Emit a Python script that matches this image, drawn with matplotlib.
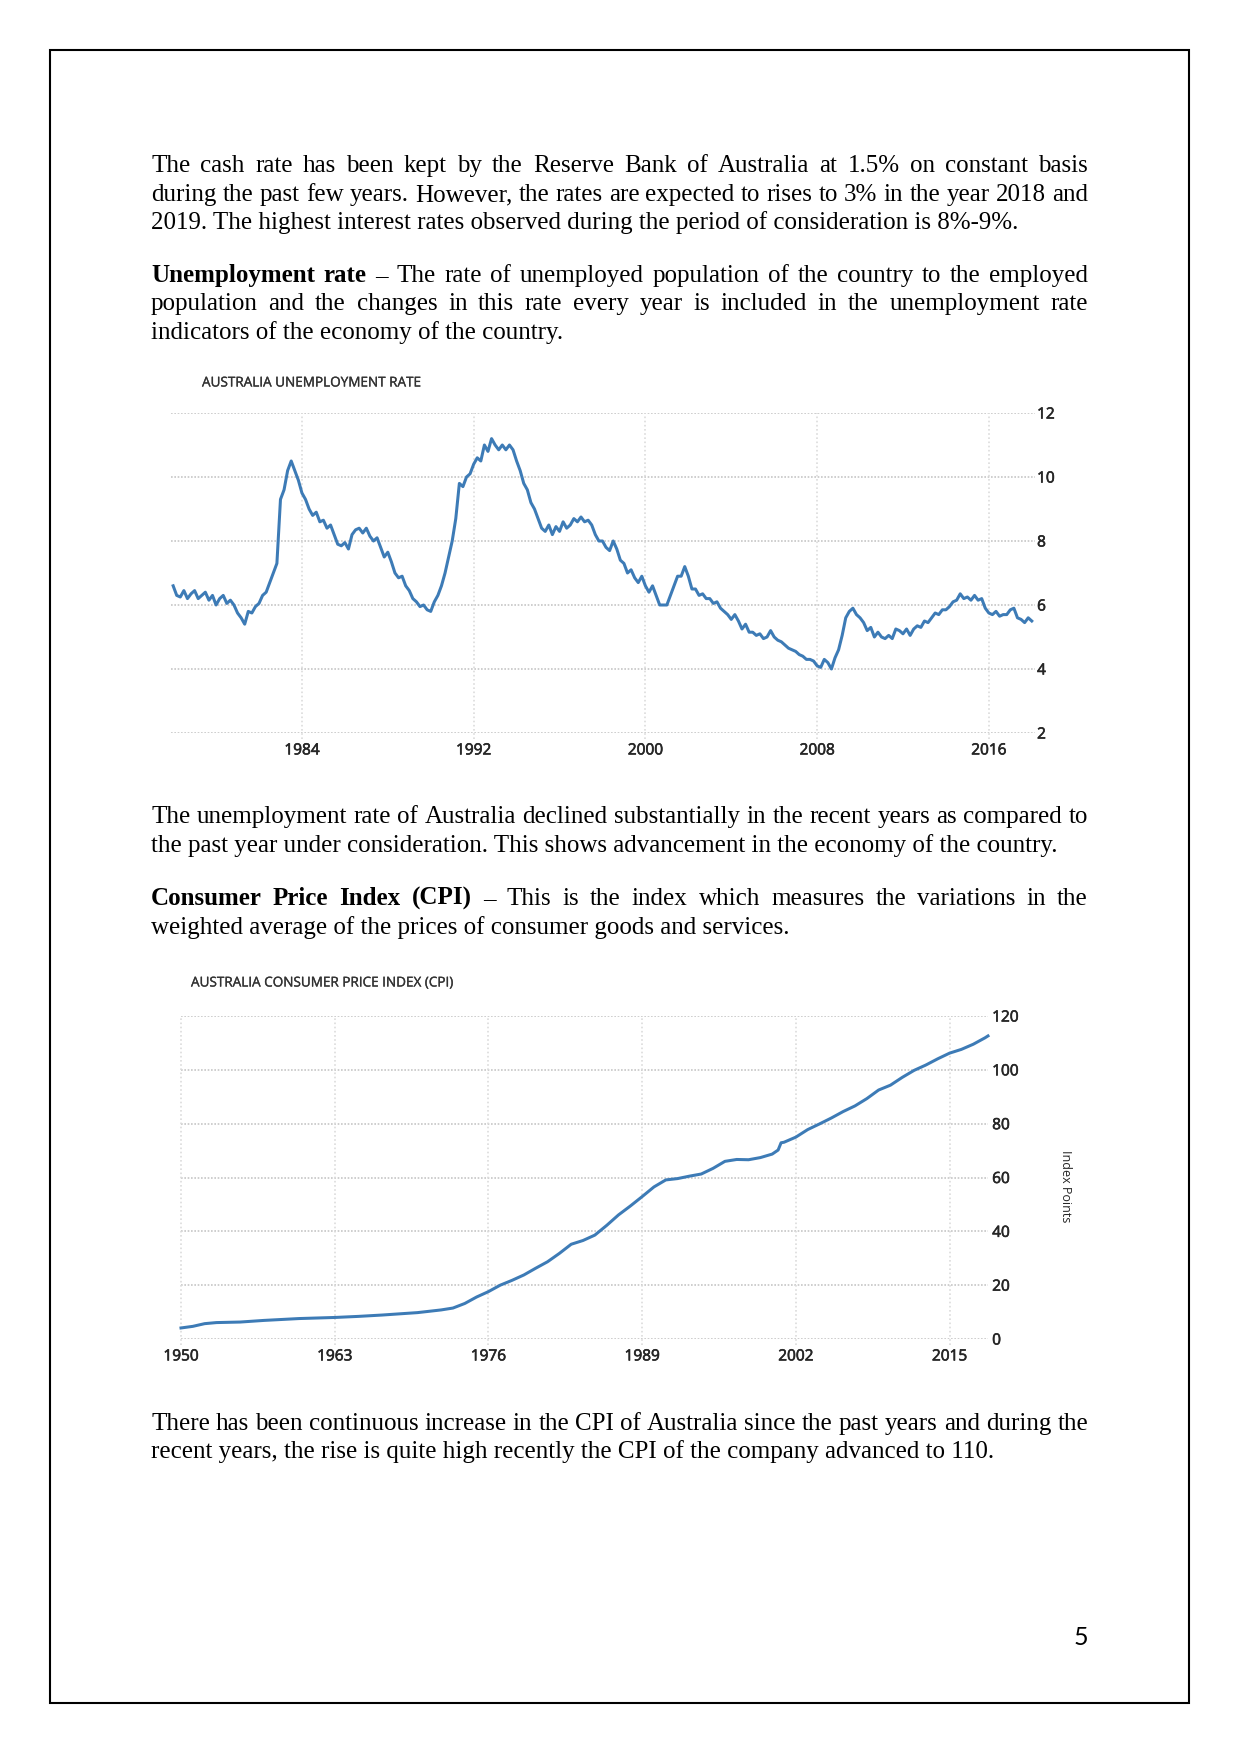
import numpy as np
import matplotlib
matplotlib.use("Agg")
import matplotlib.pyplot as plt
from matplotlib.patches import Rectangle
import matplotlib.patheffects as pe

W, H = 1241, 1754
DPI = 150

# ---------------- data ----------------
unemp_start = 1978.0
unemp_step = 1.0 / 6.0   # bi-monthly readings
unemp_values = [
    6.6, 6.3, 6.25, 6.45, 6.2, 6.35,      # 1978
    6.45, 6.2, 6.3, 6.4, 6.15, 6.3,       # 1979
    6.0, 6.2, 6.3, 6.05, 6.15, 6.0,       # 1980
    5.75, 5.6, 5.4, 5.8, 5.75, 5.95,      # 1981
    6.05, 6.3, 6.4, 6.7, 7.0, 7.3,        # 1982
    9.3, 9.6, 10.2, 10.5, 10.2, 9.9,      # 1983
    9.5, 9.3, 9.0, 8.8, 8.9, 8.6,         # 1984
    8.65, 8.4, 8.5, 8.2, 7.9, 7.85,       # 1985
    7.95, 7.75, 8.2, 8.35, 8.4, 8.25,     # 1986
    8.4, 8.15, 8.0, 8.1, 7.8, 7.5,        # 1987
    7.65, 7.35, 7.0, 6.85, 6.9, 6.6,      # 1988
    6.45, 6.2, 6.1, 5.95, 6.0, 5.85,      # 1989
    5.8, 6.1, 6.3, 6.6, 7.0, 7.5,         # 1990
    8.0, 8.7, 9.8, 9.7, 10.0, 10.1,       # 1991
    10.4, 10.6, 10.5, 11.0, 10.8, 11.2,   # 1992
    11.0, 10.85, 11.0, 10.85, 11.0, 10.85,  # 1993
    10.5, 10.2, 9.8, 9.6, 9.2, 9.0,       # 1994
    8.7, 8.4, 8.3, 8.5, 8.2, 8.45,        # 1995
    8.3, 8.6, 8.4, 8.5, 8.7, 8.6,         # 1996
    8.75, 8.6, 8.65, 8.5, 8.2, 8.0,       # 1997
    8.0, 7.8, 7.7, 8.0, 7.75, 7.4,        # 1998
    7.3, 7.0, 7.1, 6.85, 6.7, 6.9,        # 1999
    6.6, 6.4, 6.6, 6.3, 6.0, 6.0,         # 2000
    6.0, 6.3, 6.6, 6.9, 6.9, 7.2,         # 2001
    6.9, 6.5, 6.5, 6.3, 6.35, 6.2,        # 2002
    6.2, 6.05, 6.1, 5.9, 5.8, 5.7,        # 2003
    5.55, 5.7, 5.5, 5.25, 5.4, 5.15,      # 2004
    5.15, 5.05, 5.1, 4.95, 5.0, 5.2,      # 2005
    5.0, 4.9, 4.85, 4.75, 4.65, 4.6,      # 2006
    4.55, 4.45, 4.4, 4.3, 4.3, 4.25,      # 2007
    4.1, 4.05, 4.3, 4.2, 4.0, 4.35,       # 2008
    4.6, 5.05, 5.6, 5.8, 5.9, 5.7,        # 2009
    5.6, 5.45, 5.2, 5.3, 5.0, 5.15,       # 2010
    5.0, 4.95, 5.05, 4.95, 5.25, 5.2,     # 2011
    5.1, 5.25, 5.05, 5.25, 5.35, 5.3,     # 2012
    5.5, 5.45, 5.6, 5.75, 5.7, 5.85,      # 2013
    5.85, 5.95, 6.1, 6.15, 6.35, 6.2,     # 2014
    6.25, 6.15, 6.3, 6.15, 6.2, 5.9,      # 2015
    5.75, 5.7, 5.8, 5.65, 5.7, 5.7,       # 2016
    5.85, 5.9, 5.6, 5.55, 5.45, 5.6,      # 2017
    5.5,                                  # 2018
]
unemp_xticks = [1984, 1992, 2000, 2008, 2016]
unemp_yticks = [2, 4, 6, 8, 10, 12]

cpi_years = [1950, 1951, 1952, 1953, 1955, 1957, 1960, 1963, 1965, 1967,
             1970, 1972, 1973, 1974, 1975, 1976, 1977, 1978, 1979, 1980,
             1981, 1982, 1983, 1984, 1985, 1986, 1987, 1988, 1989, 1990,
             1991, 1992, 1993, 1994, 1995, 1996, 1997, 1998, 1999, 2000,
             2000.5, 2000.75, 2001, 2002, 2003, 2004, 2005, 2006, 2007, 2008,
             2009, 2010, 2011, 2012, 2013, 2014, 2015, 2016, 2017, 2018, 2018.25]
cpi_values = [4.1, 4.7, 5.7, 6.1, 6.3, 6.9, 7.6, 8.0, 8.4, 8.9,
              9.8, 10.8, 11.5, 13.2, 15.6, 17.6, 20.0, 21.8, 23.8, 26.3,
              28.7, 31.8, 35.2, 36.6, 38.6, 42.2, 46.1, 49.4, 52.9, 56.5,
              59.1, 59.6, 60.5, 61.3, 63.4, 66.0, 66.7, 66.6, 67.4, 68.7,
              70.2, 72.9, 73.1, 75.0, 77.8, 79.9, 82.1, 84.5, 86.6, 89.3,
              92.5, 94.3, 97.2, 99.8, 101.8, 104.1, 106.2, 107.6, 109.5, 111.9, 112.6]
cpi_xticks = [1950, 1963, 1976, 1989, 2002, 2015]
cpi_yticks = [0, 20, 40, 60, 80, 100, 120]

unemp_title = "AUSTRALIA UNEMPLOYMENT RATE"
cpi_title = "AUSTRALIA CONSUMER PRICE INDEX (CPI)"
cpi_ylabel = "Index Points"

paragraphs = [
    [
        [("The cash rate has been kept by the Reserve Bank of Australia at 1.5% on constant basis", False)],
        [("during the past few years. However, the rates are expected to rises to 3% in the year 2018 and", False)],
        [("2019. The highest interest rates observed during the period of consideration is 8%-9%.", False)],
    ],
    [
        [("Unemployment rate", True), ("– The rate of unemployed population of the country to the employed", False)],
        [("population and the changes in this rate every year is included in the unemployment rate", False)],
        [("indicators of the economy of the country.", False)],
    ],
    [
        [("The unemployment rate of Australia declined substantially in the recent years as compared to", False)],
        [("the past year under consideration. This shows advancement in the economy of the country.", False)],
    ],
    [
        [("Consumer Price Index (CPI)", True), ("– This is the index which measures the variations in the", False)],
        [("weighted average of the prices of consumer goods and services.", False)],
    ],
    [
        [("There has been continuous increase in the CPI of Australia since the past years and during the", False)],
        [("recent years, the rise is quite high recently the CPI of the company advanced to 110.", False)],
    ],
]
para_baselines = [
    [172, 201, 229],
    [282, 310, 339],
    [823, 852],
    [905, 934],
    [1430, 1458],
]

# ---------------- figure ----------------
fig = plt.figure(figsize=(W / DPI, H / DPI), dpi=DPI)
page = fig.add_axes([0, 0, 1, 1])
page.set_xlim(0, W)
page.set_ylim(H, 0)
page.axis("off")

page.add_patch(Rectangle((50, 50), 1139, 1653, fill=False, edgecolor="black", linewidth=1.0))

renderer = fig.canvas.get_renderer()
SERIF = "Liberation Serif"
FS = 12
X0, X1 = 151, 1088


def measure(s, bold):
    t = page.text(0, 0, s, fontfamily=SERIF, fontsize=FS,
                  fontweight="bold" if bold else "normal")
    w = t.get_window_extent(renderer).width
    t.remove()
    return w


for para, bases in zip(paragraphs, para_baselines):
    n = len(para)
    for i, (line, yb) in enumerate(zip(para, bases)):
        last = (i == n - 1)
        if last:
            x = X0
            space = measure("a a", False) - 2 * measure("a", False)
            for seg, bold in line:
                page.text(x, yb, seg, fontfamily=SERIF, fontsize=FS,
                          fontweight="bold" if bold else "normal",
                          ha="left", va="baseline", color="black")
                x += measure(seg, bold) + space
        else:
            words = []
            for seg, bold in line:
                for wd in seg.split(" "):
                    words.append((wd, bold))
            widths = [measure(wd, b) for wd, b in words]
            gap = (X1 - X0 - sum(widths)) / (len(words) - 1)
            x = X0
            for (wd, b), wdt in zip(words, widths):
                page.text(x, yb, wd, fontfamily=SERIF, fontsize=FS,
                          fontweight="bold" if b else "normal",
                          ha="left", va="baseline", color="black")
                x += wdt + gap

page.text(1088, 1645, "5", fontfamily="Lato", fontsize=12, ha="right",
          va="baseline", color="black")


def px_axes(l, t, r, b):
    return fig.add_axes([l / W, 1 - b / H, (r - l) / W, (b - t) / H])


LINE_C = "#3d7bb6"
GRID_H = "#c6c6c6"
GRID_V = "#dcdcdc"
TXT_C = "#262626"
TITLE_C = "#333333"
CF = "Open Sans"
BOLDEN = [pe.withStroke(linewidth=0.3, foreground=TXT_C)]
BOLDEN_T = [pe.withStroke(linewidth=0.15, foreground=TITLE_C)]


def style_labels(ax):
    for lab in ax.get_xticklabels() + ax.get_yticklabels():
        lab.set_fontfamily(CF)
        lab.set_path_effects(BOLDEN)


# ---- Unemployment chart ----
ax1 = px_axes(171, 413, 1035, 733)
ux = unemp_start + unemp_step * np.arange(len(unemp_values))
ax1.plot(ux, unemp_values, color=LINE_C, linewidth=1.45, clip_on=False, zorder=3,
         solid_joinstyle="round")
ax1.set_xlim(1977.9, 2018.15)
ax1.set_ylim(2, 12)
for v in unemp_yticks:
    ax1.axhline(v, color=GRID_H, linewidth=0.8, linestyle=(0, (1, 1)), zorder=1)
for v in unemp_xticks:
    ax1.axvline(v, ymin=-0.02, color=GRID_V, linewidth=0.8, linestyle=(0, (1, 1.5)),
                zorder=1, clip_on=False)
ax1.set_xticks(unemp_xticks)
ax1.set_xticklabels([str(v) for v in unemp_xticks])
ax1.set_yticks(unemp_yticks)
ax1.set_yticklabels([str(v) for v in unemp_yticks])
ax1.yaxis.tick_right()
ax1.tick_params(axis="both", length=0, labelsize=7.4, labelcolor=TXT_C)
ax1.tick_params(axis="x", pad=5)
ax1.tick_params(axis="y", pad=1)
style_labels(ax1)
for s in ax1.spines.values():
    s.set_visible(False)
ax1.patch.set_alpha(0)
page.text(202, 383, unemp_title, fontfamily=CF, fontsize=6.5, color=TITLE_C,
          ha="left", va="center", path_effects=BOLDEN_T)

# ---- CPI chart ----
ax2 = px_axes(181, 1016, 988, 1339)
ax2.plot(cpi_years, cpi_values, color=LINE_C, linewidth=1.45, clip_on=False, zorder=3)
ax2.set_xlim(1950, 2018.25)
ax2.set_ylim(0, 120)
for v in cpi_yticks:
    ax2.axhline(v, color=GRID_H, linewidth=0.8, linestyle=(0, (1, 1)), zorder=1)
for v in cpi_xticks:
    ax2.axvline(v, ymin=-0.02, color=GRID_V, linewidth=0.8, linestyle=(0, (1, 1.5)),
                zorder=1, clip_on=False)
ax2.set_xticks(cpi_xticks)
ax2.set_xticklabels([str(v) for v in cpi_xticks])
ax2.set_yticks(cpi_yticks)
ax2.set_yticklabels([str(v) for v in cpi_yticks])
ax2.yaxis.tick_right()
ax2.tick_params(axis="both", length=0, labelsize=7.4, labelcolor=TXT_C)
ax2.tick_params(axis="x", pad=5)
ax2.tick_params(axis="y", pad=2)
style_labels(ax2)
for s in ax2.spines.values():
    s.set_visible(False)
ax2.patch.set_alpha(0)
page.text(191, 983, cpi_title, fontfamily=CF, fontsize=6.5, color=TITLE_C,
          ha="left", va="center", path_effects=BOLDEN_T)
page.text(1065, 1186, cpi_ylabel, fontfamily=CF, fontsize=6.0, color=TXT_C,
          ha="center", va="center", rotation=270)

fig.savefig("out.png", dpi=DPI)
